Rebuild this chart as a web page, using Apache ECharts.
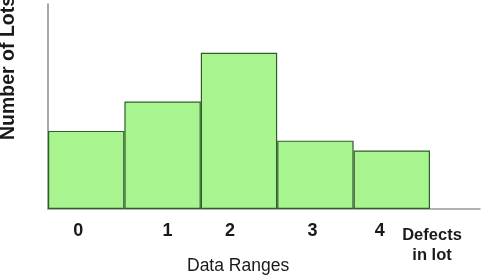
<!DOCTYPE html>
<html>
<head>
<meta charset="utf-8">
<script src="https://cdn.jsdelivr.net/npm/echarts@6/dist/echarts.min.js"></script>
<style>
html,body{margin:0;padding:0;background:#fff;}
#chart{width:485px;height:278px;}
</style>
</head>
<body>
<div id="chart"></div>
<script>
// ---- data ----
var categories = ['0', '1', '2', '3', '4'];
var lotCounts = [4, 5.5, 8, 3.5, 3];
var yMax = 10.5;
var xAxisName = 'Defects\nin lot';
var xTitle = 'Data Ranges';
var yTitle = 'Number of Lots';

// ---- layout (label nudges in px, not data) ----
var labelShift = [-8, 5, -9, -3, -12];
var font = 'Liberation Sans, Arial, sans-serif';
var rich = {};
labelShift.forEach(function (s, i) {
  rich['s' + i] = {
    fontFamily: font,
    fontSize: 18, fontWeight: 'bold', color: '#1a1a1a',
    padding: s < 0 ? [0, -2 * s, 0, 0] : [0, 0, 0, 2 * s]
  };
});

var chart = echarts.init(document.getElementById('chart'), null, {renderer: 'canvas'});
chart.setOption({
  animation: false,
  backgroundColor: '#ffffff',
  grid: [
    {left: 48, right: 55, top: 4, bottom: 69},
    {left: 48, right: 5, top: 4, bottom: 69}
  ],
  xAxis: [
    {
      type: 'category', gridIndex: 0, data: categories,
      axisLine: {show: false}, axisTick: {show: false},
      axisLabel: {
        margin: 13,
        formatter: function (v, i) { return '{s' + i + '|' + v + '}'; },
        rich: rich
      },
      name: xAxisName, nameLocation: 'end', nameGap: 2,
      nameTextStyle: {
        fontFamily: font, fontSize: 16.5, fontWeight: 'bold', color: '#1a1a1a',
        align: 'center', verticalAlign: 'top', lineHeight: 20, padding: [16, 0, 0, 0]
      }
    },
    {
      type: 'value', gridIndex: 1, min: 0, max: 1,
      axisLine: {show: true, lineStyle: {color: '#9a9a9a', width: 1.5}},
      axisTick: {show: false}, axisLabel: {show: false}, splitLine: {show: false}
    }
  ],
  yAxis: [
    {
      type: 'value', gridIndex: 0, min: 0, max: yMax,
      axisLine: {show: true, lineStyle: {color: '#8a8a8a', width: 1.5}},
      axisTick: {show: false}, axisLabel: {show: false}, splitLine: {show: false}
    },
    {
      type: 'value', gridIndex: 1, min: 0, max: 1, show: false
    }
  ],
  graphic: [
    {
      type: 'text', left: 187, top: 257, z: 10,
      style: {text: xTitle, font: '17.5px ' + font, fill: '#1a1a1a'}
    },
    {
      type: 'text', x: 9, y: 68, rotation: Math.PI / 2, z: 10,
      style: {text: yTitle, font: 'bold 19.5px ' + font, fill: '#1a1a1a',
              align: 'center', verticalAlign: 'middle'}
    }
  ],
  series: [
    {
      type: 'bar', xAxisIndex: 0, yAxisIndex: 0, data: lotCounts,
      barCategoryGap: '0%', z: 5,
      itemStyle: {color: '#a8f590', borderColor: '#2e5e2a', borderWidth: 1.2}
    }
  ]
});
</script>
</body>
</html>
